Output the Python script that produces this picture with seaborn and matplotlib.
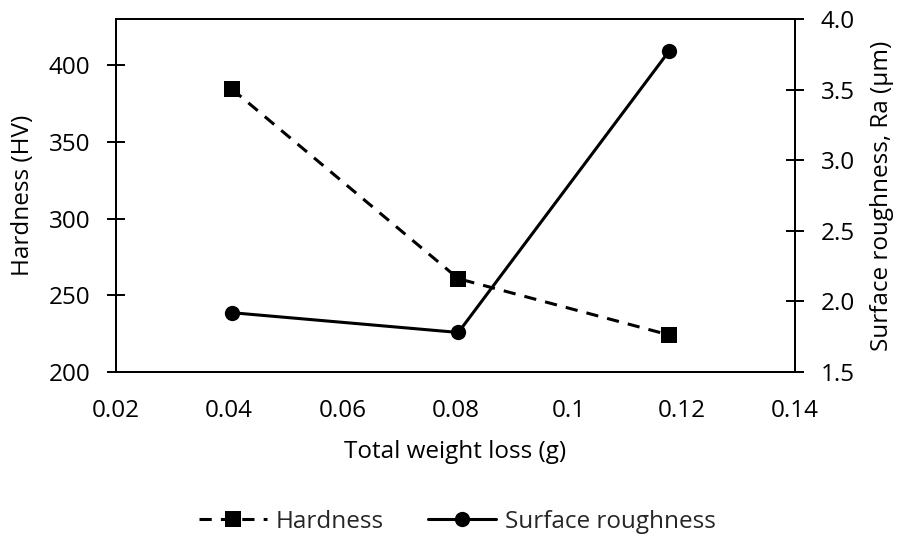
import matplotlib
matplotlib.use("Agg")
import matplotlib.pyplot as plt
import seaborn as sns
import pandas as pd
from matplotlib.lines import Line2D

# Measured values
weight_loss = [0.0405, 0.0805, 0.1177]
hardness = [384.3, 260.8, 224.2]
roughness = [1.92, 1.78, 3.77]

x_ticks = [0.02, 0.04, 0.06, 0.08, 0.1, 0.12, 0.14]
x_tick_labels = ["0.02", "0.04", "0.06", "0.08", "0.1", "0.12", "0.14"]
hv_ticks = [200, 250, 300, 350, 400]
ra_ticks = [1.5, 2.0, 2.5, 3.0, 3.5, 4.0]

sns.set_theme(style="white")
plt.rcParams["font.family"] = ["Open Sans", "DejaVu Sans"]

FS = 17.5
LW = 2.2
dash = (0, (4, 3))

df = pd.DataFrame({"loss": weight_loss, "hv": hardness, "ra": roughness})

fig = plt.figure(figsize=(8.98, 5.39), dpi=100)
ax = fig.add_axes([116 / 898, 1 - 372 / 539, (795 - 116) / 898, (372 - 19) / 539])
ax2 = ax.twinx()

sns.lineplot(data=df, x="loss", y="hv", ax=ax, color="black", linewidth=LW,
             marker="s", markersize=11.5, markeredgewidth=0, linestyle=dash)
sns.lineplot(data=df, x="loss", y="ra", ax=ax2, color="black", linewidth=LW,
             marker="o", markersize=11, markeredgewidth=0)

ax.set_xlim(0.02, 0.14)
ax.set_ylim(200, 430)
ax2.set_ylim(1.5, 4.0)
ax.set_xticks(x_ticks)
ax.set_xticklabels(x_tick_labels)
ax.set_yticks(hv_ticks)
ax2.set_yticks(ra_ticks)
ax2.set_yticklabels([f"{v:.1f}" for v in ra_ticks])

for a in (ax, ax2):
    for s in a.spines.values():
        s.set_color("black")
        s.set_linewidth(1.4)
    a.tick_params(axis="both", which="major", labelsize=FS, length=13, width=1.4,
                  color="black", labelcolor="black", direction="inout")
    a.tick_params(axis="x", pad=13)
    a.tick_params(axis="y", pad=12)
    a.grid(False)

ax.set_xlabel("Total weight loss (g)", fontsize=FS, color="black", labelpad=12)
ax.set_ylabel("Hardness (HV)", fontsize=FS, color="black", labelpad=9.5)
ax2.set_ylabel("Surface roughness, Ra (μm)", fontsize=FS, color="black", labelpad=11)

handles = [
    Line2D([], [], color="black", linewidth=LW, linestyle=dash, marker="s",
           markersize=11.5, markeredgewidth=0),
    Line2D([], [], color="black", linewidth=LW, marker="o", markersize=11,
           markeredgewidth=0),
]
fig.legend(handles, ["Hardness", "Surface roughness"], loc="center",
           bbox_to_anchor=(457 / 898, 1 - 522 / 539), ncol=2, frameon=False,
           fontsize=FS, handlelength=2.8, columnspacing=1.8, handletextpad=0.37)

fig.savefig("out.png", dpi=100, facecolor="white")
